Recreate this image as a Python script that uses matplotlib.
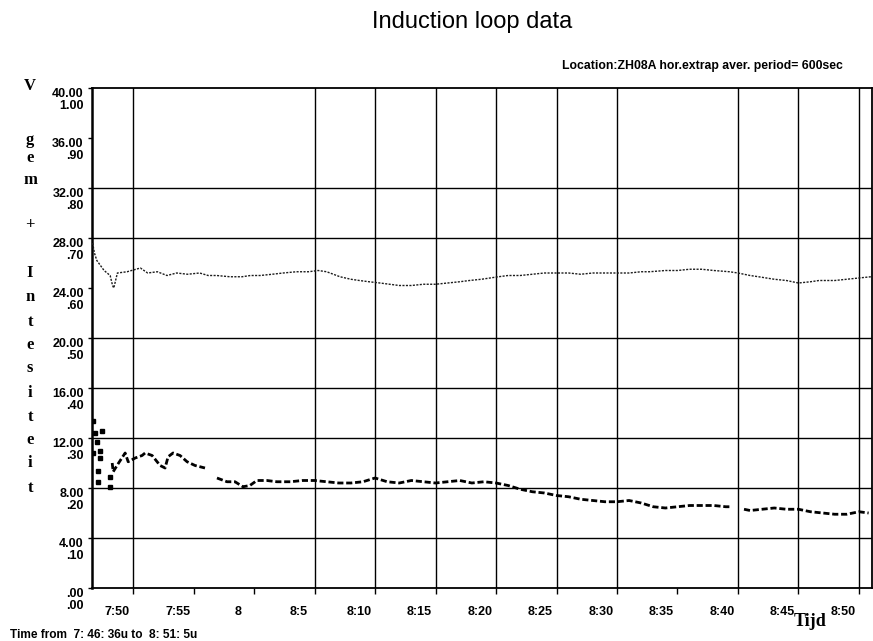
import matplotlib
matplotlib.use("Agg")
import matplotlib.pyplot as plt
import matplotlib.transforms as mtransforms

# Times are minutes after midnight (7:46:36 = 466.6, 8:51:05 = 531.08)
speed_time = [466.65, 466.8, 467.0, 467.3, 467.6, 468.1, 468.3, 468.4, 468.7,
              469.5, 470.6, 471.2, 472.0, 472.8, 473.6, 474.5, 475.5, 476.2,
              476.9, 478.0, 479.0, 479.7, 480.5, 481.5, 482.4, 483.5, 484.5,
              485.3, 486.0, 487.1, 488.0, 488.7, 489.5, 490.4, 491.2, 492.0,
              493.0, 494.0, 495.0, 496.0, 497.0, 497.8, 498.8, 500.2, 501.0,
              502.0, 503.0, 504.0, 505.2, 506.0, 507.0, 508.0, 509.0, 510.0,
              511.0, 512.0, 512.7, 514.0, 515.0, 516.0, 517.0, 518.0, 519.3,
              520.0, 521.0, 521.7, 523.0, 524.0, 525.0, 526.0, 526.7, 528.0,
              529.0, 530.0, 531.0]
speed_value = [27.6, 26.8, 26.2, 25.8, 25.4, 25.0, 24.2, 24.0, 25.2,
               25.3, 25.6, 25.2, 25.3, 25.0, 25.2, 25.1, 25.2, 25.0,
               25.0, 24.9, 24.9, 25.0, 25.0, 25.1, 25.2, 25.3, 25.3,
               25.4, 25.3, 24.9, 24.7, 24.6, 24.5, 24.4, 24.3, 24.2,
               24.2, 24.3, 24.3, 24.4, 24.5, 24.6, 24.7, 24.9, 25.0,
               25.0, 25.1, 25.2, 25.2, 25.2, 25.1, 25.2, 25.2, 25.2,
               25.2, 25.3, 25.3, 25.4, 25.4, 25.5, 25.5, 25.4, 25.3,
               25.2, 25.0, 24.9, 24.7, 24.6, 24.4, 24.5, 24.6, 24.6,
               24.7, 24.8, 24.9]

# scattered start-up samples of the intensity series
flow_start_time = [466.70, 466.72, 466.86, 467.03, 467.11, 467.13, 467.28,
                   467.30, 467.44, 468.10, 468.12]
flow_start_value = [13.4, 10.8, 12.4, 11.7, 9.4, 8.5, 11.0,
                    10.4, 12.6, 8.1, 8.9]
# None marks a missing sample (gap in the trace)
flow_time = [468.27, 468.35, 468.8, 469.34, 469.59,
             470.17, 470.74, 470.99, 471.57, 472.23, 472.64, 472.89, 473.30,
             473.88, 474.46, 475.12, 475.94, 476.4, 476.93, 477.76, 478.42,
             479.08, 479.65, 480.23, 481.06, 481.88, 483.0, 484.0, 485.0,
             486.0, 487.0, 488.0, 489.0, 490.0, 491.0, 492.0, 493.0, 494.0,
             495.0, 496.0, 497.0, 498.0, 499.0, 500.0, 501.0, 502.0, 503.0,
             504.0, 505.0, 506.0, 507.0, 508.0, 509.0, 510.0, 511.0, 512.0,
             513.0, 514.0, 515.0, 516.0, 517.0, 518.0, 519.0, 519.5, 520.0,
             520.5, 521.0, 522.0, 523.0, 524.0, 525.0, 526.0, 527.0, 528.0,
             529.0, 530.0, 530.8]
flow_value = [10.0, 9.3, 10.0, 10.8, 10.1,
              10.4, 10.6, 10.8, 10.6, 9.8, 9.6, 10.5, 10.8,
              10.6, 10.1, 9.8, 9.6, None, 8.8, 8.5, 8.5,
              8.1, 8.2, 8.6, 8.6, 8.5, 8.5, 8.6, 8.6,
              8.5, 8.4, 8.4, 8.5, 8.8, 8.5, 8.4, 8.6, 8.5,
              8.4, 8.5, 8.6, 8.4, 8.5, 8.4, 8.2, 7.9, 7.7,
              7.6, 7.4, 7.3, 7.1, 7.0, 6.9, 6.9, 7.0, 6.8,
              6.5, 6.4, 6.5, 6.6, 6.6, 6.6, 6.5, 6.5, None,
              6.3, 6.2, 6.3, 6.4, 6.3, 6.3, 6.1, 6.0, 5.9,
              5.9, 6.1, 6.0]

x_tick_minutes = [470, 475, 480, 485, 490, 495, 500, 505, 510, 515, 520, 525, 530]
x_tick_labels = ["7:50", "7:55", "8", "8:5", "8:10", "8:15", "8:20",
                 "8:25", "8:30", "8:35", "8:40", "8:45", "8:50"]
y_tick_values = [0, 4, 8, 12, 16, 20, 24, 28, 32, 36, 40]
y_tick_labels = [".00\n.00", "4.00\n.10", "8.00\n.20", "12.00\n.30",
                 "16.00\n.40", "20.00\n.50", "24.00\n.60", "28.00\n.70",
                 "32.00\n.80", "36.00\n.90", "40.00\n1.00"]
grid_minutes = [470, 485, 490, 495, 500, 505, 510, 520, 525, 530]
grid_levels = [4, 8, 12, 16, 20, 28, 32]

W, H = 873, 641
fig = plt.figure(figsize=(W / 100, H / 100), dpi=100)
ax = fig.add_axes([92 / W, 1 - 588 / H, 780 / W, 500 / H])
ax.set_xlim(466.6, 531.08)
ax.set_ylim(0, 40)

for m in grid_minutes:
    ax.axvline(m, color="black", lw=1.0, zorder=1)
for lv in grid_levels:
    ax.axhline(lv, color="black", lw=1.0, zorder=1)

flow_plot = [float("nan") if v is None else v for v in flow_value]

ax.plot(speed_time, speed_value, color="#1c1c1c", lw=1.0,
        ls=(0, (1.5, 1.0)), zorder=3)
ax.plot(flow_start_time, flow_start_value, ls="none", marker="s", ms=2.2,
        color="black", zorder=3)
ax.plot(flow_time, flow_plot, color="black", lw=2.0,
        ls=(0, (2.2, 1.0)), zorder=3)

for s in ax.spines.values():
    s.set_color("black")
    s.set_linewidth(1.3)
ax.spines["left"].set_linewidth(1.8)

tick_font = dict(family=["Liberation Sans Narrow", "Liberation Sans", "DejaVu Sans"],
                 weight="bold", size=9)
ax.set_yticks(y_tick_values)
ax.set_yticklabels(y_tick_labels, **tick_font)
ax.set_xticks(x_tick_minutes)
ax.set_xticklabels(x_tick_labels, **tick_font)
ax.tick_params(axis="y", direction="out", length=3, width=1, pad=3)
ax.tick_params(axis="x", direction="out", length=4, width=1, pad=9)
for lab in ax.get_yticklabels():
    lab.set_verticalalignment("top")
    lab.set_linespacing(0.95)
shift = mtransforms.ScaledTranslation(-16 / 100, 0, fig.dpi_scale_trans)
for lab in ax.get_xticklabels():
    lab.set_transform(lab.get_transform() + shift)

def px(x, y):
    return x / W, 1 - y / H

fig.text(*px(472, 22), "Induction loop data", ha="center", va="center",
         family=["Liberation Sans", "DejaVu Sans"], size=17)
fig.text(*px(843, 66), "Location:ZH08A hor.extrap aver. period= 600sec",
         ha="right", va="center", family=["Liberation Sans", "DejaVu Sans"],
         size=8.8, weight="bold")
fig.text(*px(10, 635), "Time from  7: 46: 36u to  8: 51: 5u", ha="left",
         va="center", family=["Liberation Sans", "DejaVu Sans"], size=8.6,
         weight="bold")
fig.text(*px(810, 622), "Tijd", ha="center", va="center",
         family=["Liberation Serif", "DejaVu Serif"], size=13, weight="bold")

axis_letters = [("V", 86), ("g", 140), ("e", 158), ("m", 180), ("+", 225),
                ("I", 273), ("n", 297), ("t", 322), ("e", 345), ("s", 368),
                ("i", 393), ("t", 417), ("e", 440), ("i", 463), ("t", 488)]
for ch, yy in axis_letters:
    fig.text(*px(30, yy), ch, ha="center", va="center",
             family=["Liberation Serif", "DejaVu Serif"], size=12,
             weight="bold")

fig.savefig("out.png", dpi=100)
